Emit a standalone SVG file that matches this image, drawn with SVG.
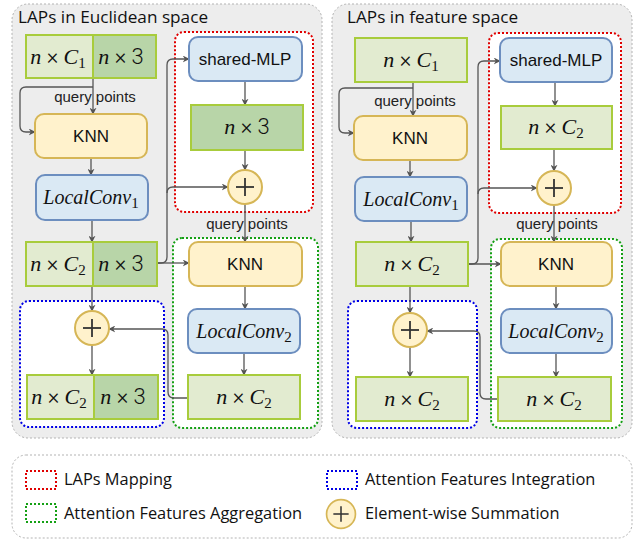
<svg xmlns="http://www.w3.org/2000/svg" width="640" height="541" viewBox="0 0 640 541">
<style>
.panel{fill:#ededed;stroke:#b3b3b3;stroke-width:1;stroke-dasharray:2 2}
.legend{fill:#fff;stroke:#b3b3b3;stroke-width:1;stroke-dasharray:2 2}
.lg{fill:#e2ebd0;stroke:#a8cc3c;stroke-width:2}
.dg{fill:#b8d5a8;stroke:#a8cc3c;stroke-width:2}
.bl{fill:#dae9f4;stroke:#6c8ebf;stroke-width:2}
.yl{fill:#fff2cc;stroke:#d6b656;stroke-width:2}
.red{fill:#fff;stroke:#e00000;stroke-width:2;stroke-dasharray:2 2}
.blu{fill:#fff;stroke:#0000e6;stroke-width:2;stroke-dasharray:2 2}
.grn{fill:#fff;stroke:#14a014;stroke-width:2;stroke-dasharray:2 2}
.redl{fill:none;stroke:#e00000;stroke-width:2;stroke-dasharray:2 2}
.blul{fill:none;stroke:#0000e6;stroke-width:2;stroke-dasharray:2 2}
.grnl{fill:none;stroke:#14a014;stroke-width:2;stroke-dasharray:2 2}
.c{fill:none;stroke:#555;stroke-width:1.3;marker-end:url(#arr)}
.plus{stroke:#333;stroke-width:1.8}
.t{font-family:"Liberation Sans",Arial,sans-serif;font-size:17px;fill:#111;text-anchor:middle}
.q{font-family:"Liberation Sans",Arial,sans-serif;font-size:15px;fill:#222;text-anchor:middle}
.m{font-family:"Liberation Serif","Times New Roman",serif;font-size:22px;fill:#111;text-anchor:middle}
.i{font-style:italic}
.s{font-family:Roboto,"Liberation Sans",sans-serif;font-weight:300}
.sub{font-size:15px}
.lc{font-family:"Liberation Serif","Times New Roman",serif;font-size:20px;font-style:italic;fill:#111;text-anchor:middle}
.title{font-family:"Open Sans","Noto Sans",sans-serif;font-size:17.2px;fill:#111}
.lt{font-family:"Open Sans","Noto Sans",sans-serif;font-size:16.4px;fill:#111}
</style>
<defs>
<marker id="arr" viewBox="0 0 10 10" refX="9" refY="5" markerWidth="7" markerHeight="7" markerUnits="userSpaceOnUse" orient="auto">
<path d="M0,0 L10,5 L0,10 L3,5 Z" fill="#555"/>
</marker>
<g id="plusg">
<circle r="17" class="yl"/>
<line x1="-9" y1="0" x2="9" y2="0" class="plus"/>
<line x1="0" y1="-9" x2="0" y2="9" class="plus"/>
</g>
</defs>

<g id="panel-euclidean">
<rect x="12" y="4" width="310" height="434" rx="16" class="panel"/>
<text x="18" y="23" class="title">LAPs in Euclidean space</text>
</g>
<g id="panel-feature">
<rect x="332" y="4" width="300" height="434" rx="16" class="panel"/>
<text x="347" y="23" class="title">LAPs in feature space</text>
</g>

<g id="groups">
<rect x="175" y="32" width="138" height="180" rx="9" class="red"/>
<rect x="173" y="238" width="145" height="190" rx="9" class="grn"/>
<rect x="20" y="301" width="144" height="126" rx="9" class="blu"/>
<rect x="489" y="33" width="132" height="180" rx="9" class="red"/>
<rect x="491" y="239" width="131" height="189" rx="9" class="grn"/>
<rect x="348" y="301" width="129" height="127" rx="9" class="blu"/>
</g>

<g id="connectors">
<path d="M93,78 V114" class="c"/>
<path d="M93,87 H26 Q20,87 20,93 V126 Q20,132 26,132 H35" class="c"/>
<path d="M91,158 V175" class="c"/>
<path d="M92,220 V242" class="c"/>
<path d="M157,263 H189" class="c"/>
<path d="M157,263 H161 Q167,263 167,257 V65 Q167,59 173,59 H189" class="c"/>
<path d="M167,193 Q167,187 173,187 H228" class="c"/>
<path d="M245,81 V105" class="c"/>
<path d="M245,150 V170" class="c"/>
<path d="M245,204 V242" class="c"/>
<path d="M245,286 V309" class="c"/>
<path d="M244,353 V375" class="c"/>
<path d="M188,398 H174 Q168,398 168,392 V335 Q168,329 162,329 H109" class="c"/>
<path d="M92,286 V311" class="c"/>
<path d="M92,345 V375" class="c"/>
<path d="M413,82 V116" class="c"/>
<path d="M413,88 H345 Q339,88 339,94 V127 Q339,133 345,133 H354" class="c"/>
<path d="M410,160 V177" class="c"/>
<path d="M411,220 V242" class="c"/>
<path d="M468,264 H501" class="c"/>
<path d="M468,264 H472 Q478,264 478,258 V67 Q478,61 484,61 H500" class="c"/>
<path d="M478,194 Q478,188 484,188 H537" class="c"/>
<path d="M555,82 V106" class="c"/>
<path d="M554,149 V171" class="c"/>
<path d="M554,205 V242" class="c"/>
<path d="M556,286 V309" class="c"/>
<path d="M556,353 V377" class="c"/>
<path d="M498,399 H486 Q480,399 480,393 V337 Q480,331 474,331 H427" class="c"/>
<path d="M410,286 V313" class="c"/>
<path d="M410,347 V377" class="c"/>
</g>

<g id="labels">
<text x="95" y="102" class="q">query points</text>
<text x="247" y="229" class="q">query points</text>
<text x="415" y="106" class="q">query points</text>
<text x="557" y="229" class="q">query points</text>
</g>

<g id="L-input">
<rect x="26" y="35" width="67" height="43" class="lg"/>
<rect x="93" y="35" width="63" height="43" class="dg"/>
<text x="58" y="64" class="m"><tspan class="i">n</tspan><tspan class="s"> × </tspan><tspan class="i">C</tspan><tspan class="sub" dy="4">1</tspan></text>
<text x="121" y="64" class="m"><tspan class="i">n</tspan><tspan class="s"> × 3</tspan></text>
</g>
<g id="L-knn1">
<rect x="35" y="114" width="112" height="44" rx="9" class="yl"/>
<text x="91" y="142" class="t">KNN</text>
</g>
<g id="L-localconv1">
<rect x="36" y="175" width="112" height="45" rx="9" class="bl"/>
<text x="91" y="204" class="lc">LocalConv<tspan class="sub" dy="4" font-style="normal">1</tspan></text>
</g>
<g id="L-feat">
<rect x="26" y="242" width="67" height="44" class="lg"/>
<rect x="93" y="242" width="64" height="44" class="dg"/>
<text x="58" y="271" class="m"><tspan class="i">n</tspan><tspan class="s"> × </tspan><tspan class="i">C</tspan><tspan class="sub" dy="4">2</tspan></text>
<text x="121" y="271" class="m"><tspan class="i">n</tspan><tspan class="s"> × 3</tspan></text>
</g>
<g id="L-sum2">
<use href="#plusg" x="92" y="328"/>
</g>
<g id="L-output">
<rect x="27" y="375" width="67" height="44" class="lg"/>
<rect x="94" y="375" width="64" height="44" class="dg"/>
<text x="59" y="404" class="m"><tspan class="i">n</tspan><tspan class="s"> × </tspan><tspan class="i">C</tspan><tspan class="sub" dy="4">2</tspan></text>
<text x="123" y="404" class="m"><tspan class="i">n</tspan><tspan class="s"> × 3</tspan></text>
</g>
<g id="L-mlp">
<rect x="189" y="37" width="113" height="44" rx="9" class="bl"/>
<text x="245" y="65" class="t">shared-MLP</text>
</g>
<g id="L-map">
<rect x="191" y="105" width="112" height="45" class="dg"/>
<text x="247" y="134" class="m"><tspan class="i">n</tspan><tspan class="s"> × 3</tspan></text>
</g>
<g id="L-sum1">
<use href="#plusg" x="245" y="187"/>
</g>
<g id="L-knn2">
<rect x="189" y="242" width="113" height="44" rx="9" class="yl"/>
<text x="245" y="270" class="t">KNN</text>
</g>
<g id="L-localconv2">
<rect x="188" y="309" width="112" height="44" rx="9" class="bl"/>
<text x="244" y="338" class="lc">LocalConv<tspan class="sub" dy="4" font-style="normal">2</tspan></text>
</g>
<g id="L-agg">
<rect x="188" y="375" width="112" height="44" class="lg"/>
<text x="244" y="404" class="m"><tspan class="i">n</tspan><tspan class="s"> × </tspan><tspan class="i">C</tspan><tspan class="sub" dy="4">2</tspan></text>
</g>

<g id="R-input">
<rect x="355" y="38" width="112" height="44" class="lg"/>
<text x="411" y="67" class="m"><tspan class="i">n</tspan><tspan class="s"> × </tspan><tspan class="i">C</tspan><tspan class="sub" dy="4">1</tspan></text>
</g>
<g id="R-knn1">
<rect x="354" y="116" width="113" height="44" rx="9" class="yl"/>
<text x="410" y="144" class="t">KNN</text>
</g>
<g id="R-localconv1">
<rect x="355" y="177" width="112" height="44" rx="9" class="bl"/>
<text x="411" y="206" class="lc">LocalConv<tspan class="sub" dy="4" font-style="normal">1</tspan></text>
</g>
<g id="R-feat">
<rect x="356" y="242" width="112" height="44" class="lg"/>
<text x="412" y="271" class="m"><tspan class="i">n</tspan><tspan class="s"> × </tspan><tspan class="i">C</tspan><tspan class="sub" dy="4">2</tspan></text>
</g>
<g id="R-sum2">
<use href="#plusg" x="410" y="330"/>
</g>
<g id="R-output">
<rect x="356" y="377" width="112" height="44" class="lg"/>
<text x="412" y="406" class="m"><tspan class="i">n</tspan><tspan class="s"> × </tspan><tspan class="i">C</tspan><tspan class="sub" dy="4">2</tspan></text>
</g>
<g id="R-mlp">
<rect x="500" y="38" width="112" height="44" rx="9" class="bl"/>
<text x="556" y="66" class="t">shared-MLP</text>
</g>
<g id="R-map">
<rect x="501" y="106" width="111" height="43" class="lg"/>
<text x="556" y="134" class="m"><tspan class="i">n</tspan><tspan class="s"> × </tspan><tspan class="i">C</tspan><tspan class="sub" dy="4">2</tspan></text>
</g>
<g id="R-sum1">
<use href="#plusg" x="554" y="188"/>
</g>
<g id="R-knn2">
<rect x="501" y="242" width="111" height="44" rx="9" class="yl"/>
<text x="556" y="270" class="t">KNN</text>
</g>
<g id="R-localconv2">
<rect x="501" y="309" width="111" height="44" rx="9" class="bl"/>
<text x="556" y="338" class="lc">LocalConv<tspan class="sub" dy="4" font-style="normal">2</tspan></text>
</g>
<g id="R-agg">
<rect x="498" y="377" width="113" height="44" class="lg"/>
<text x="554" y="406" class="m"><tspan class="i">n</tspan><tspan class="s"> × </tspan><tspan class="i">C</tspan><tspan class="sub" dy="4">2</tspan></text>
</g>

<g id="legend">
<rect x="12" y="455" width="620" height="83" rx="14" class="legend"/>
<rect x="26" y="471" width="30" height="18" class="redl"/>
<text x="64" y="485" class="lt">LAPs Mapping</text>
<rect x="327" y="471" width="30" height="18" class="blul"/>
<text x="365" y="485" class="lt">Attention Features Integration</text>
<rect x="26" y="504" width="30" height="18" class="grnl"/>
<text x="64" y="519" class="lt">Attention Features Aggregation</text>
<use href="#plusg" x="341" y="514" transform="translate(341 514) scale(0.85) translate(-341 -514)"/>
<text x="365" y="519" class="lt">Element-wise Summation</text>
</g>
</svg>
